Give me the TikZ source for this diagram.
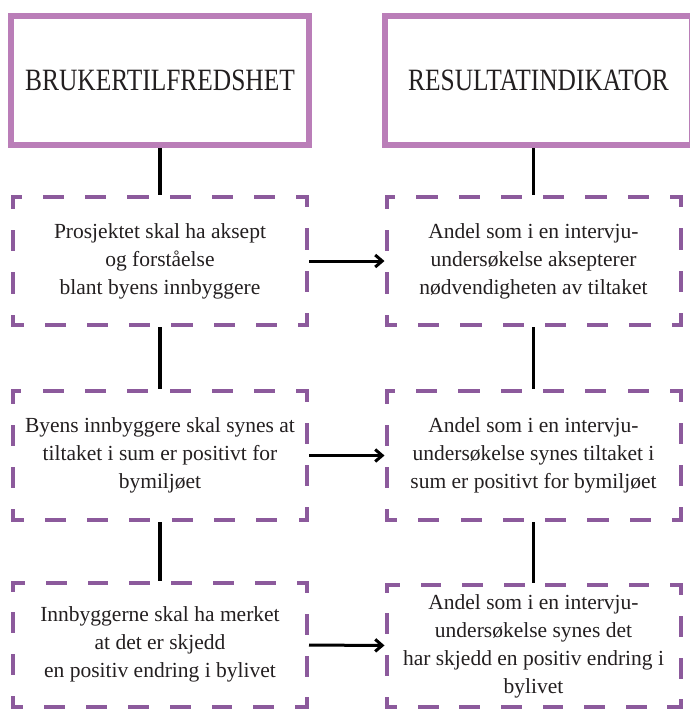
\documentclass[tikz,border=0pt]{standalone}
\usepackage{fontspec}
\setmainfont{Liberation Serif}
\newfontfamily\headfont{Liberation Serif}[FakeStretch=0.82]
\usetikzlibrary{arrows.meta}
\definecolor{lilla}{HTML}{BA7EB8}
\definecolor{morklilla}{HTML}{8C5A9C}
\definecolor{tekst}{HTML}{231F20}

\begin{document}
\begin{tikzpicture}[x={(1pt,0pt)}, y={(0pt,-1pt)},
  hode/.style={draw=lilla,line width=6pt,rectangle,fill=white,minimum height=129pt,inner sep=0pt,text=tekst,font=\headfont\fontsize{31}{36}\selectfont},
  maal/.style={draw=morklilla,line width=4pt,line cap=rect,rectangle,minimum width=294pt,inner sep=0pt,align=center,text=tekst,font=\fontsize{21.5}{28}\selectfont},
  strek/.style={dash pattern=on #1pt-4pt off #1pt+4pt,dash phase=(#1pt-4pt)/2},
  kant/.style={line width=3.5pt},
  pil/.style={line width=3pt,-{Straight Barb[length=7pt,width=12pt]}}]
  \useasboundingbox (0,0) rectangle (690,713);
  \clip (0,0) rectangle (690,713);
  % Nodes
  \node[hode,minimum width=298pt] (Bruker) at (160,80.5) {BRUKERTILFREDSHET};
  \node[hode,minimum width=307pt] (Resultat) at (538.5,80.5) {RESULTATINDIKATOR};

  \node[maal,strek=21.125,minimum height=128.5pt] (Maal1) at (160,261) {Prosjektet skal ha aksept\\og forståelse\\blant byens innbyggere};
  \node[maal,strek=21.15,minimum height=129pt] (Maal2) at (160,455.5) {Byens innbyggere skal synes at\\tiltaket i sum er positivt for\\bymiljøet};
  \node[maal,strek=20.9,minimum height=124pt] (Maal3) at (160,644.5) {Innbyggerne skal ha merket\\at det er skjedd\\en positiv endring i bylivet};

  \node[maal,strek=21.125,minimum height=128.5pt] (Ind1) at (533.5,261) {Andel som i en intervju-\\undersøkelse aksepterer\\nødvendigheten av tiltaket};
  \node[maal,strek=21.15,minimum height=129pt] (Ind2) at (533.5,455.5) {Andel som i en intervju-\\undersøkelse synes tiltaket i\\sum er positivt for bymiljøet};
  \node[maal,strek=20.8,minimum height=122pt] (Ind3) at (533.5,646) {Andel som i en intervju-\\undersøkelse synes det\\har skjedd en positiv endring i\\bylivet};

  % Edges
  \draw[kant] (Bruker.south) -- (Maal1.north);
  \draw[kant] (Maal1.south) -- (Maal2.north);
  \draw[kant] (Maal2.south) -- (Maal3.north);
  \draw[kant] (Resultat.south -| Ind1.north) -- (Ind1.north);
  \draw[kant] (Ind1.south) -- (Ind2.north);
  \draw[kant] (Ind2.south) -- (Ind3.north);

  % Arrows
  \draw[pil] (Maal1) -- (Ind1);
  \draw[pil] (Maal2) -- (Ind2);
  \draw[pil] (Maal3) -- (Ind3);
\end{tikzpicture}
\end{document}
